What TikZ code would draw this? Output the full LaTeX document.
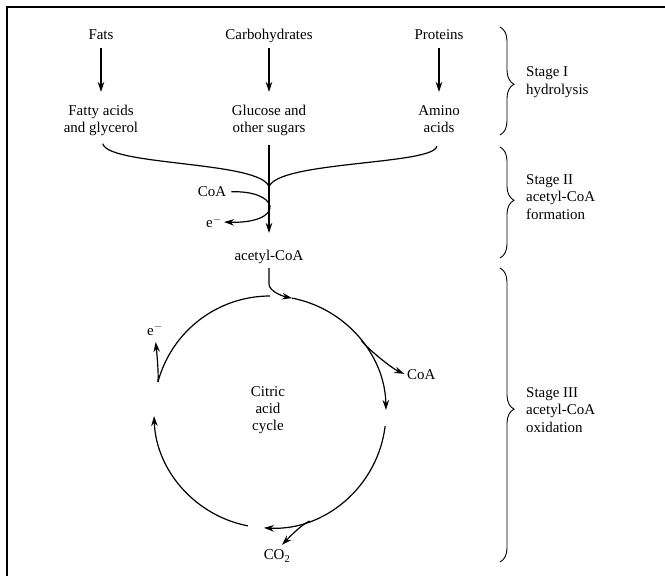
\documentclass[tikz,border=0pt]{standalone}
\usepackage{fontspec}
\setmainfont{Liberation Serif}
\usetikzlibrary{arrows.meta,decorations.pathreplacing,calc}
\begin{document}
\begin{tikzpicture}[x=1bp,y=-1bp,
  lbl/.style={font=\fontsize{15}{17}\selectfont, inner sep=0pt, align=center},
  stagelbl/.style={font=\fontsize{15}{17.5}\selectfont, inner sep=0pt, align=left, anchor=west},
  arr/.style={line width=1.2bp, -{Stealth[length=10bp,width=6.5bp]}},
  ln/.style={line width=1.2bp},
  brc/.style={line width=0.9bp, decorate, decoration={brace, amplitude=14bp, aspect=#1}},
]
\useasboundingbox (0,0) rectangle (665,576);
\draw[line width=2.2bp] (7,576) -- (7,7) -- (665,7);

% Stage I
\node[lbl, anchor=base] (fats) at (101,40) {Fats};
\node[lbl, anchor=base] (carbs) at (269,40) {Carbohydrates};
\node[lbl, anchor=base] (prot) at (439,40) {Proteins};
\node[lbl, anchor=north] (fatty) at (101,105) {Fatty acids\\and glycerol};
\node[lbl, anchor=north] (gluc) at (269,105) {Glucose and\\other sugars};
\node[lbl, anchor=north] (amino) at (439,105) {Amino\\acids};
\draw[arr, shorten <=8bp, shorten >=13bp] (fats.base) -- (fatty.north);
\draw[arr, shorten <=8bp, shorten >=13bp] (carbs.base) -- (gluc.north);
\draw[arr, shorten <=8bp, shorten >=13bp] (prot.base) -- (amino.north);

% Stage II
\coordinate (merge) at (269,187);
\draw[ln, shorten <=8bp] (fatty.south) .. controls (108,166) and (262,161) .. (merge);
\draw[ln, shorten <=14bp] (amino.south) .. controls (434,165) and (277,161) .. (merge);
\node[lbl, anchor=north] (acetyl) at (269,250) {acetyl-CoA};
\draw[arr, shorten <=9bp, shorten >=17bp] (gluc.south) -- (acetyl.north);
\node[lbl] (coa1) at (212,192) {CoA};
\node[lbl] (e1) at (214,222) {e$^{-}$};
\draw[arr, shorten <=5bp, shorten >=2bp] (coa1.east) .. controls (252,191) and (268,197) .. (270,206) .. controls (271,216) and (255,223) .. (e1.east);

% Stage III
\coordinate (c) at (270,412);
\node[lbl] (cac) at (268,410) {Citric\\acid\\cycle};
\coordinate (entry) at ($(c)+(-79:116)$);
\draw[arr, shorten <=4bp] (acetyl.south) -- ++(0,20) .. controls +(0,7) and +(-10,-2) .. (entry);
\draw[arr] (entry) arc[start angle=-79, end angle=-1, radius=116];
\draw[arr] ($(c)+(7:116)$) arc[start angle=7, end angle=93, radius=116];
\draw[arr] ($(c)+(101:116)$) arc[start angle=101, end angle=178, radius=116];
\draw[ln] ($(c)+(-165:116)$) arc[start angle=-165, end angle=-90, radius=116];

\node[lbl, anchor=west] (coa2) at (407,375) {CoA};
\coordinate (b1) at ($(c)+(-38:116)$);
\draw[arr, shorten >=3bp] (b1) .. controls +(8,10) and +(-14,-6) .. (coa2.west);

\node[lbl] (co2) at (277,556) {CO\textsubscript{2}};
\coordinate (b2) at ($(c)+(70:116)$);
\draw[arr, shorten >=7bp] (b2) .. controls +(-9,3.5) and +(7,-7) .. (co2.north);

\node[lbl, anchor=base] (e2) at (155,335) {e$^{-}$};
\coordinate (b3) at ($(c)+(-165:116)$);
\draw[arr, shorten >=7bp] (b3) .. controls +(1,-10) and +(1,10) .. (e2.base);

% Braces and stage labels
\draw[brc=0.53] (500,27) -- (500,135);
\draw[brc=0.48] (500,147) -- (500,258);
\draw[brc=0.48] (500,268) -- (500,562);
\node[stagelbl] (s1) at (526,82) {Stage I\\hydrolysis};
\node[stagelbl] (s2) at (526,197) {Stage II\\acetyl-CoA\\formation};
\node[stagelbl] (s3) at (526,410) {Stage III\\acetyl-CoA\\oxidation};
\end{tikzpicture}
\end{document}
